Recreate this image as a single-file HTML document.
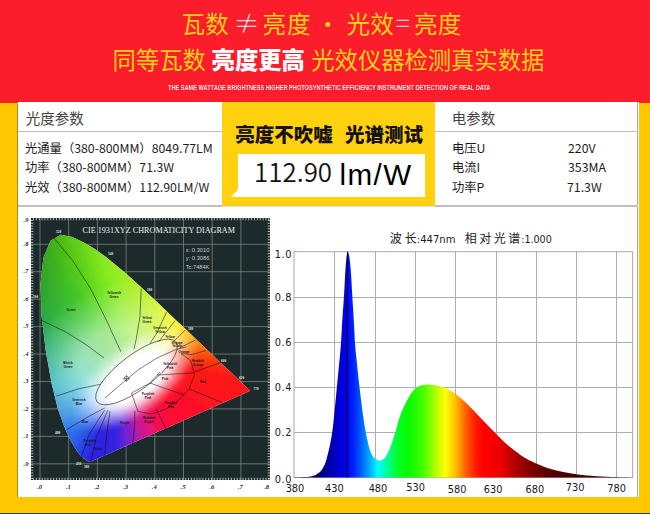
<!DOCTYPE html><html lang="zh"><head><meta charset="utf-8"><title>光谱测试</title><style>
html,body{margin:0;padding:0}
body{width:650px;height:514px;overflow:hidden;position:relative;background:#ffc700;font-family:"Liberation Sans","Noto Sans CJK SC",sans-serif}
.a{position:absolute;white-space:nowrap}
.cj{font-family:"Noto Sans CJK SC","Liberation Sans",sans-serif}
#hd{left:0;top:0;width:650px;height:102.6px;background:#fb1c2c}
#wh{left:18px;top:102px;width:620.9px;height:395px;background:#fff}
.t1{color:#ffd21a;font-size:23.5px;line-height:30px;font-weight:400}
.row{font-size:12.3px;line-height:16px;color:#1c1c1c}
.ttl{font-size:14.5px;line-height:20px;color:#444}
.ln{background:#c0c0c0;height:1.4px}
</style></head><body>
<div class="a" id="hd"></div>
<div class="a" id="wh"></div>
<div class="a" style="left:17px;top:102px;width:1px;height:395px;background:#a88c1c"></div>
<div class="a" style="left:637.1px;top:102px;width:1px;height:395px;background:#a4a8ba"></div>
<div class="a" style="left:0;top:513px;width:650px;height:1px;background:#27404a"></div>

<div class="a cj t1" style="left:181.5px;top:8px;letter-spacing:0.3px">瓦数</div>
<div class="a cj" id="ne" style="left:233.5px;top:6.5px;font-size:26px;line-height:30px;color:#ffdada;font-weight:300">≠</div>
<div class="a cj t1" style="left:262.5px;top:8px;letter-spacing:0.9px">亮度</div>
<div class="a cj t1" style="left:316px;top:8px">·</div>
<div class="a cj t1" style="left:346.5px;top:8px;letter-spacing:0.3px">光效</div>
<div class="a cj" id="eq" style="left:395.6px;top:6.5px;font-size:27px;line-height:30px;color:#ffc4c4;font-weight:300">=</div>
<div class="a cj t1" style="left:414px;top:8px;letter-spacing:0.3px">亮度</div>
<div class="a cj t1" style="left:112.6px;top:44.2px;font-size:23.3px">同等瓦数</div>
<div class="a cj t1" style="left:211.6px;top:44.2px;font-size:23.3px;color:#fff;font-weight:900">亮度更高</div>
<div class="a cj t1" style="left:311.3px;top:44.2px;font-size:23.3px">光效仪器检测真实数据</div>
<div class="a" id="en" style="left:168px;top:82.6px;font-size:7px;line-height:9px;font-weight:700;color:#ffe4e6;transform-origin:0 0;transform:scaleX(0.802)">THE SAME WATTAGE BRIGHTNESS HIGHER PHOTOSYNTHETIC EFFICIENCY INSTRUMENT DETECTION OF REAL DATA</div>

<div class="a cj ttl" style="left:25.8px;top:107.6px">光度参数</div>
<div class="a ln" style="left:18px;top:130.5px;width:204.5px"></div>
<div class="a cj row" style="left:25px;top:139.8px">光通量（380-800MM）8049.77LM</div>
<div class="a cj row" style="left:25px;top:158.7px">功率（380-800MM）71.3W</div>
<div class="a cj row" style="left:25px;top:178.6px">光效（380-800MM）112.90LM/W</div>
<div class="a ln" style="left:18px;top:205.4px;width:204px"></div><div class="a ln" style="left:434.5px;top:205.4px;width:203.5px"></div><div class="a" style="left:222px;top:205.6px;width:212.5px;height:1.2px;background:#dcdcee"></div>

<div class="a" style="left:222px;top:102px;width:212.5px;height:104px;background:#ffd10f"></div>
<div class="a cj" style="left:235.3px;top:120.3px;font-size:19.5px;line-height:28px;font-weight:900;color:#151008">亮度不吹嘘<span style="display:inline-block;width:12.3px"></span>光谱测试</div>
<div class="a" style="left:231px;top:154px;width:194px;height:43px;background:#fff;clip-path:polygon(7px 0,100% 0,100% 100%,0 100%,7px 35.5px)"></div>
<div class="a cj" id="num" style="left:254px;top:153.4px;font-size:25.8px;line-height:36px;color:#111;font-weight:350;letter-spacing:0.05px">112.90</div>
<div class="a" id="unit" style="left:339.4px;top:158px;font-size:29.6px;line-height:34px;color:#000;letter-spacing:1.5px">lm/W</div>

<div class="a cj ttl" style="left:451.8px;top:107.6px">电参数</div>
<div class="a ln" style="left:434.5px;top:130.5px;width:203px"></div>
<div class="a cj row" style="left:452px;top:139.8px">电压U</div><div class="a cj row" style="left:568px;top:139.8px">220V</div>
<div class="a cj row" style="left:452px;top:158.7px">电流I</div><div class="a cj row" style="left:568px;top:158.7px">353MA</div>
<div class="a cj row" style="left:452px;top:178.6px">功率P</div><div class="a cj row" style="left:567px;top:178.6px">71.3W</div>
<div style="position:absolute;left:31px;top:217.5px;width:239px;height:262px;background:#1d2a2b;overflow:hidden"><svg style="position:absolute;left:0;top:0" width="239" height="262" viewBox="31 217.5 239 262"><path d="M40.0 217.5V479.5M68.7 217.5V479.5M97.4 217.5V479.5M126.1 217.5V479.5M154.8 217.5V479.5M183.5 217.5V479.5M212.2 217.5V479.5M240.9 217.5V479.5M31.0 463.3H270.0M31.0 435.9H270.0M31.0 408.4H270.0M31.0 381.0H270.0M31.0 353.5H270.0M31.0 326.1H270.0M31.0 298.7H270.0M31.0 271.2H270.0M31.0 243.8H270.0" stroke="#849086" stroke-width="0.7" fill="none"/><path d="M33 218H270M33 479H270" stroke="#b4beb6" stroke-width="3.6" stroke-dasharray="1 1.87" fill="none"/><path d="M31.5 219.5V479.5M269.5 219.5V479.5" stroke="#b4beb6" stroke-width="3.6" stroke-dasharray="1 1.744" fill="none"/></svg><div style="position:absolute;left:0;top:0;width:239px;height:262px;clip-path:polygon(58.4px 244.7px,55.6px 243.1px,53.3px 241.2px,49.7px 238.0px,47.2px 235.2px,43.8px 230.2px,39.2px 222.3px,33.5px 209.7px,26.8px 191.0px,20.5px 165.2px,14.7px 132.9px,10.6px 98.4px,9.5px 66.4px,12.4px 40.2px,19.6px 23.3px,29.7px 17.3px,41.2px 19.4px,52.8px 25.0px,63.8px 31.6px,74.3px 39.1px,84.7px 47.4px,95.0px 56.1px,105.2px 65.3px,115.5px 74.7px,125.7px 84.3px,135.9px 93.9px,145.8px 103.4px,155.5px 112.6px,164.8px 121.4px,173.5px 129.7px,181.4px 137.3px,188.3px 143.9px,199.5px 154.5px,206.9px 161.5px,214.8px 169.0px,219.3px 173.3px);background:#fff"><svg style="position:absolute;left:0;top:0" width="239" height="262" viewBox="0 0 239 262"><defs><filter id="hb" x="-5%" y="-5%" width="110%" height="110%"><feGaussianBlur stdDeviation="2"/></filter></defs><g filter="url(#hb)"><path fill="#3186ea" d="M68.5 182.4L67.4 183.4L63.9 186.2L56.3 192.2L44.2 201.7L19.1 221.1L-20.0 251.3L-98.5 312.0L-112.1 292.5L-28.1 239.7L13.8 213.5L40.9 196.9L54.1 189.0L62.7 184.3L66.8 182.4L68.6 182.3"/><path fill="#348ee9" d="M68.5 182.4L67.0 182.7L63.0 184.8L54.6 189.9L41.6 198.1L15.1 215.5L-26.2 242.7L-108.8 297.6L-121.0 277.2L-33.4 230.5L10.4 207.5L38.8 193.1L52.8 186.4L62.0 182.7L66.7 181.5L68.9 182.1"/><path fill="#3697e9" d="M68.8 182.2L66.7 181.9L62.2 183.3L53.2 187.3L39.5 194.4L11.5 209.6L-31.7 233.7L-118.1 282.6L-128.8 261.3L-38.0 221.0L7.4 201.2L37.0 189.1L51.7 183.7L61.6 181.0L66.7 180.5L69.4 181.7"/><path fill="#38a0e8" d="M69.2 181.9L66.7 180.9L61.7 181.6L52.1 184.7L37.6 190.5L8.4 203.4L-36.5 224.3L-126.3 266.9L-135.5 244.9L-42.0 211.1L5.0 194.7L35.6 184.9L50.9 180.8L61.3 179.1L66.9 179.4L70.0 181.2"/><path fill="#37a6e3" d="M69.8 181.4L66.8 179.8L61.4 179.8L51.2 181.8L36.0 186.4L5.8 197.0L-40.7 214.5L-133.3 250.6L-141.0 228.1L-45.2 201.0L3.0 188.1L34.5 180.6L50.4 177.8L61.3 177.1L67.3 178.1L70.8 180.6"/><path fill="#36adde" d="M70.5 180.8L67.1 178.6L61.3 177.8L50.6 178.8L34.8 182.1L3.6 190.4L-44.1 204.5L-139.2 233.9L-145.2 210.9L-47.6 190.6L1.5 181.2L33.8 176.2L50.1 174.7L61.5 175.0L67.8 176.7L71.8 179.9"/><path fill="#36b3da" d="M71.5 180.1L67.6 177.2L61.4 175.8L50.2 175.8L34.0 177.7L2.0 183.6L-46.9 194.2L-143.9 216.8L-148.3 193.4L-49.3 180.1L0.5 174.2L33.4 171.6L50.1 171.5L61.9 172.8L68.6 175.3L73.0 179.0"/><path fill="#35bad5" d="M72.6 179.3L68.3 175.8L61.7 173.6L50.1 172.6L33.5 173.2L0.8 176.7L-48.8 183.7L-147.4 199.4L-150.1 175.7L-50.3 169.4L0.1 167.2L33.4 167.0L50.4 168.2L62.5 170.6L69.5 173.7L74.3 178.0"/><path fill="#34c0d0" d="M73.9 178.3L69.2 174.2L62.3 171.4L50.3 169.3L33.3 168.6L0.2 169.6L-50.1 173.1L-149.6 181.8L-150.7 157.9L-50.5 158.7L0.1 160.0L33.7 162.3L51.0 164.8L63.3 168.2L70.7 172.0L75.8 176.9"/><path fill="#33c1c3" d="M75.3 177.3L70.3 172.6L63.0 169.0L50.7 165.9L33.5 163.9L0.0 162.5L-50.5 162.4L-150.6 164.0L-150.0 140.1L-50.0 147.9L0.7 152.9L34.3 157.6L51.8 161.4L64.3 165.8L71.9 170.2L77.4 175.7"/><path fill="#32c2b6" d="M76.8 176.1L71.5 170.8L64.0 166.6L51.5 162.5L34.1 159.2L0.4 155.3L-50.2 151.6L-150.4 146.2L-148.1 122.4L-48.6 137.2L1.8 145.7L35.3 152.8L52.8 157.9L65.6 163.3L73.4 168.4L79.2 174.3"/><path fill="#32c2a9" d="M78.5 174.8L72.9 169.0L65.1 164.2L52.5 159.1L35.0 154.4L1.3 148.2L-49.2 140.9L-148.9 128.5L-145.0 104.8L-46.6 126.6L3.3 138.6L36.7 148.1L54.2 154.4L67.0 160.8L75.0 166.5L81.0 172.9"/><path fill="#31c39c" d="M80.4 173.4L74.4 167.1L66.5 161.7L53.7 155.6L36.2 149.7L2.7 141.0L-47.4 130.2L-146.2 110.8L-140.6 87.5L-43.8 116.0L5.4 131.6L38.4 143.4L55.8 151.0L68.6 158.2L76.7 164.5L83.0 171.4"/><path fill="#30c48f" d="M82.3 171.9L76.1 165.2L68.0 159.1L55.2 152.2L37.8 145.0L4.6 134.0L-44.8 119.6L-142.2 93.4L-135.0 70.5L-40.3 105.7L8.0 124.7L40.4 138.7L57.6 147.5L70.4 155.7L78.6 162.5L85.2 169.8"/><path fill="#32c581" d="M84.4 170.4L78.0 163.2L69.8 156.5L56.9 148.7L39.7 140.3L7.0 127.0L-41.5 109.3L-137.1 76.3L-128.3 53.9L-36.0 95.6L11.0 117.9L42.7 134.2L59.6 144.1L72.4 153.1L80.6 160.4L87.4 168.2"/><path fill="#34c672" d="M86.6 168.7L79.9 161.1L71.7 154.0L58.9 145.3L41.9 135.7L9.9 120.2L-37.6 99.1L-130.7 59.5L-120.4 37.8L-31.1 85.9L14.5 111.3L45.4 129.7L61.9 140.7L74.5 150.5L82.8 158.4L89.7 166.4"/><path fill="#36c764" d="M88.9 167.0L82.0 159.1L73.7 151.4L61.1 141.9L44.4 131.2L13.3 113.5L-32.9 89.2L-123.3 43.3L-111.4 22.3L-25.5 76.4L18.5 104.9L48.3 125.3L64.4 137.4L76.8 148.0L85.0 156.2L92.0 164.6"/><path fill="#39c856" d="M91.2 165.3L84.3 157.0L76.0 148.8L63.5 138.5L47.3 126.8L17.1 107.1L-27.5 79.6L-114.7 27.5L-101.4 7.4L-19.3 67.3L22.8 98.7L51.5 121.1L67.1 134.2L79.2 145.4L87.4 154.1L94.5 162.8"/><path fill="#3cca4c" d="M93.6 163.4L86.6 154.9L78.3 146.3L66.1 135.3L50.4 122.6L21.3 100.8L-21.5 70.4L-105.0 12.4L-90.4 -6.8L-12.4 58.7L27.6 92.9L55.0 117.1L70.0 131.1L81.7 143.0L89.8 152.0L97.0 160.9"/><path fill="#3ecb41" d="M96.1 161.6L89.0 152.7L80.8 143.8L69.0 132.1L53.8 118.5L25.9 94.9L-14.8 61.6L-94.3 -2.0L-78.4 -20.2L-5.0 50.5L32.8 87.3L58.7 113.2L73.0 128.1L84.4 140.5L92.4 149.9L99.5 159.0"/><path fill="#42cd38" d="M98.6 159.7L91.5 150.6L83.5 141.4L72.0 129.1L57.4 114.5L30.9 89.2L-7.6 53.2L-82.6 -15.7L-65.5 -32.7L3.0 42.8L38.3 82.1L62.7 109.6L76.2 125.2L87.2 138.2L94.9 147.8L102.1 157.1"/><path fill="#46cf30" d="M101.2 157.8L94.0 148.6L86.2 139.0L75.1 126.2L61.3 110.8L36.3 83.8L0.2 45.4L-70.0 -28.5L-51.7 -44.4L11.4 35.7L44.1 77.2L66.8 106.1L79.6 122.5L90.0 135.9L97.6 145.8L104.7 155.1"/><path fill="#4cd228" d="M103.8 155.8L96.7 146.5L89.0 136.7L78.4 123.4L65.4 107.3L42.0 78.8L8.4 38.1L-56.6 -40.5L-37.3 -55.0L20.3 29.1L50.2 72.6L71.2 102.9L83.1 119.9L92.9 133.7L100.2 143.8L107.2 153.2"/><path fill="#55d722" d="M106.3 153.9L99.3 144.5L91.9 134.5L81.9 120.8L69.6 104.0L48.1 74.1L17.2 31.3L-42.3 -51.5L-22.1 -64.7L29.6 23.2L56.6 68.5L75.7 99.9L86.6 117.5L95.9 131.7L102.9 141.9L109.8 151.2"/><path fill="#61dc1e" d="M108.9 151.9L102.0 142.5L94.9 132.4L85.4 118.3L74.1 100.9L54.4 69.9L26.4 25.1L-27.4 -61.5L-6.3 -73.2L39.3 17.9L63.3 64.8L80.3 97.2L90.3 115.3L99.0 129.7L105.7 140.0L112.4 149.3"/><path fill="#6de11c" d="M111.5 150.0L104.7 140.6L97.9 130.4L89.1 116.0L78.7 98.1L61.0 66.0L36.0 19.6L-11.8 -70.4L10.1 -80.7L49.4 13.2L70.1 61.6L85.1 94.8L94.1 113.2L102.0 127.8L108.4 138.1L114.9 147.4"/><path fill="#7be61d" d="M114.0 148.1L107.4 138.8L101.0 128.5L92.8 113.9L83.5 95.6L67.7 62.6L45.9 14.7L4.4 -78.2L26.9 -87.0L59.7 9.3L77.1 58.8L90.0 92.7L97.9 111.4L105.1 126.1L111.1 136.4L117.4 145.6"/><path fill="#8aea20" d="M116.5 146.2L110.1 137.0L104.0 126.7L96.6 112.0L88.3 93.4L74.7 59.7L56.1 10.5L21.1 -84.9L44.1 -92.1L70.2 6.0L84.3 56.4L94.9 90.9L101.7 109.8L108.2 124.6L113.7 134.8L119.8 143.7"/><path fill="#96ec22" d="M119.0 144.4L112.8 135.3L107.1 125.1L100.4 110.3L93.2 91.5L81.8 57.2L66.5 7.1L38.2 -90.5L61.6 -96.1L80.9 3.5L91.5 54.5L99.9 89.4L105.6 108.3L111.3 123.1L116.4 133.2L122.1 142.0"/><path fill="#9fee24" d="M121.3 142.6L115.5 133.7L110.2 123.6L104.3 108.8L98.2 89.9L89.0 55.1L77.2 4.3L55.6 -94.8L79.3 -98.8L91.7 1.7L98.9 53.2L105.0 88.2L109.5 107.2L114.3 121.8L118.9 131.8L124.4 140.3"/><path fill="#a9ef23" d="M123.6 140.8L118.1 132.2L113.3 122.3L108.1 107.5L103.2 88.6L96.3 53.6L87.9 2.2L73.2 -98.0L97.2 -100.2L102.5 0.7L106.2 52.3L110.0 87.3L113.3 106.2L117.3 120.7L121.4 130.4L126.6 138.6"/><path fill="#b1f021" d="M125.8 139.2L120.6 130.9L116.3 121.1L112.0 106.5L108.3 87.6L103.7 52.5L98.8 0.9L91.0 -99.9L115.1 -100.5L113.4 0.4L113.6 51.9L115.0 86.8L117.1 105.5L120.3 119.8L123.9 129.2L128.7 137.1"/><path fill="#b9f020" d="M128.0 137.6L123.0 129.6L119.2 120.1L115.8 105.7L113.3 86.9L111.0 52.0L109.7 0.4L108.9 -100.5L132.9 -99.5L124.3 0.8L120.9 52.0L120.0 86.6L120.9 105.0L123.1 119.0L126.2 128.1L130.6 135.6"/><path fill="#c4f220" d="M130.0 136.1L125.4 128.5L122.1 119.2L119.6 105.1L118.3 86.6L118.4 51.9L120.6 0.6L126.8 -100.0L150.6 -97.2L135.0 2.1L128.1 52.6L124.9 86.7L124.5 104.8L125.9 118.4L128.5 127.1L132.5 134.2"/><path fill="#cef420" d="M131.8 134.7L127.7 127.5L125.0 118.6L123.3 104.8L123.2 86.6L125.7 52.4L131.4 1.6L144.5 -98.2L168.1 -93.8L145.7 4.0L135.3 53.7L129.7 87.1L128.1 104.8L128.6 117.9L130.6 126.3L134.2 132.9"/><path fill="#d8f420" d="M133.6 133.3L129.9 126.6L127.7 118.1L126.9 104.7L128.1 86.9L132.8 53.3L142.0 3.2L162.1 -95.1L185.3 -89.1L156.1 6.7L142.2 55.3L134.4 87.9L131.6 105.0L131.2 117.7L132.6 125.6L135.7 131.7"/><path fill="#e1f420" d="M135.2 132.1L131.9 125.8L130.3 117.7L130.4 104.9L132.8 87.6L139.9 54.7L152.5 5.7L179.4 -90.8L202.1 -83.2L166.2 10.1L149.1 57.4L138.9 89.0L134.9 105.5L133.6 117.6L134.5 125.0L137.1 130.7"/><path fill="#e9f320" d="M136.7 131.0L133.8 125.2L132.8 117.6L133.8 105.3L137.4 88.6L146.7 56.6L162.8 8.8L196.3 -85.4L218.4 -76.2L176.1 14.2L155.6 60.0L143.3 90.4L138.1 106.2L135.9 117.7L136.2 124.6L138.4 129.7"/><path fill="#eff220" d="M138.0 130.0L135.6 124.8L135.2 117.6L137.1 106.0L141.8 89.9L153.4 59.0L172.8 12.7L212.8 -78.8L234.1 -68.1L185.7 19.0L162.0 63.0L147.5 92.2L141.2 107.2L138.1 118.0L137.8 124.4L139.5 128.9"/><path fill="#f5f120" d="M139.2 129.1L137.3 124.4L137.4 117.8L140.2 106.8L146.1 91.5L159.8 61.9L182.4 17.3L228.8 -71.0L249.3 -58.8L194.8 24.4L168.1 66.5L151.5 94.2L144.1 108.4L140.1 118.4L139.2 124.2L140.5 128.2"/><path fill="#f9ec1e" d="M140.2 128.4L138.7 124.3L139.4 118.2L143.1 108.0L150.1 93.5L166.0 65.2L191.7 22.5L244.2 -62.1L263.7 -48.6L203.5 30.5L173.8 70.3L155.3 96.5L146.7 109.8L141.9 119.0L140.5 124.3L141.2 127.6"/><path fill="#fbe41a" d="M141.0 127.8L140.1 124.2L141.3 118.8L145.8 109.3L154.0 95.7L171.9 69.0L200.6 28.4L258.8 -52.2L277.4 -37.3L211.7 37.2L179.3 74.6L158.8 99.1L149.2 111.4L143.6 119.9L141.6 124.4L141.8 127.1"/><path fill="#fcdc16" d="M141.6 127.3L141.2 124.4L143.1 119.6L148.4 110.9L157.6 98.2L177.5 73.1L209.0 34.8L272.8 -41.3L290.2 -25.1L219.5 44.5L184.4 79.3L162.1 102.0L151.5 113.3L145.1 120.8L142.5 124.8L142.2 126.8"/><path fill="#fed412" d="M142.1 126.9L142.2 124.6L144.6 120.5L150.7 112.6L161.0 101.0L182.7 77.7L216.9 41.9L285.9 -29.4L302.2 -12.0L226.6 52.3L189.1 84.4L165.0 105.1L153.5 115.3L146.4 122.0L143.2 125.2L142.5 126.6"/><path fill="#ffc910" d="M142.4 126.7L143.0 125.0L145.9 121.6L152.8 114.6L164.0 104.0L187.5 82.6L224.2 49.5L298.2 -16.6L313.1 1.8L233.2 60.6L193.3 89.8L167.7 108.5L155.3 117.6L147.4 123.3L143.8 125.8L142.5 126.6"/><path fill="#ffbc10" d="M142.5 126.6L143.6 125.6L147.1 122.8L154.7 116.8L166.8 107.3L191.9 87.9L231.0 57.7L309.5 -3.0L323.1 16.5L239.1 69.3L197.2 95.5L170.1 112.1L156.9 120.0L148.3 124.7L144.2 126.6L142.4 126.7"/><path fill="#ffaf10" d="M142.5 126.6L144.0 126.3L148.0 124.2L156.4 119.1L169.4 110.9L195.9 93.5L237.2 66.3L319.8 11.4L332.0 31.8L244.4 78.5L200.6 101.5L172.2 115.9L158.2 122.6L149.0 126.3L144.3 127.5L142.1 126.9"/><path fill="#ffa210" d="M142.2 126.8L144.3 127.1L148.8 125.7L157.8 121.7L171.5 114.6L199.5 99.4L242.7 75.3L329.1 26.4L339.8 47.7L249.0 88.0L203.6 107.8L174.0 119.9L159.3 125.3L149.4 128.0L144.3 128.5L141.6 127.3"/><path fill="#ff9110" d="M141.8 127.1L144.3 128.1L149.3 127.4L158.9 124.3L173.4 118.5L202.6 105.6L247.5 84.7L337.3 42.1L346.5 64.1L253.0 97.9L206.0 114.3L175.4 124.1L160.1 128.2L149.7 129.9L144.1 129.6L141.0 127.8"/><path fill="#ff7f10" d="M141.2 127.6L144.2 129.2L149.6 129.2L159.8 127.2L175.0 122.6L205.2 112.0L251.7 94.5L344.3 58.4L352.0 80.9L256.2 108.0L208.0 120.9L176.5 128.4L160.6 131.2L149.7 131.9L143.7 130.9L140.2 128.4"/><path fill="#ff6d10" d="M140.5 128.2L143.9 130.4L149.7 131.2L160.4 130.2L176.2 126.9L207.4 118.6L255.1 104.5L350.2 75.1L356.2 98.1L258.6 118.4L209.5 127.8L177.2 132.8L160.9 134.3L149.5 134.0L143.2 132.3L139.2 129.1"/><path fill="#ff5c10" d="M139.5 128.9L143.4 131.8L149.6 133.2L160.8 133.2L177.0 131.3L209.0 125.4L257.9 114.8L354.9 92.2L359.3 115.6L260.3 128.9L210.5 134.8L177.6 137.4L160.9 137.5L149.1 136.2L142.4 133.7L138.0 130.0"/><path fill="#ff4b10" d="M138.4 129.7L142.7 133.2L149.3 135.4L160.9 136.4L177.5 135.8L210.2 132.3L259.8 125.3L358.4 109.6L361.1 133.3L261.3 139.6L210.9 141.8L177.6 142.0L160.6 140.8L148.5 138.4L141.5 135.3L136.7 131.0"/><path fill="#ff3a10" d="M137.1 130.7L141.8 134.8L148.7 137.6L160.7 139.7L177.7 140.4L210.8 139.4L261.1 135.9L360.6 127.2L361.7 151.1L261.5 150.3L210.9 149.0L177.3 146.7L160.0 144.2L147.7 140.8L140.3 137.0L135.2 132.1"/><path fill="#ff2f12" d="M135.7 131.7L140.7 136.4L148.0 140.0L160.3 143.1L177.5 145.1L211.0 146.5L261.5 146.6L361.6 145.0L361.0 168.9L261.0 161.1L210.3 156.1L176.7 151.4L159.2 147.6L146.7 143.2L139.1 138.8L133.6 133.3"/><path fill="#ff1f16" d="M134.2 132.9L139.5 138.2L147.0 142.4L159.5 146.5L176.9 149.8L210.6 153.7L261.2 157.4L361.4 162.8L359.1 186.6L259.6 171.8L209.2 163.3L175.7 156.2L158.2 151.1L145.4 145.7L137.6 140.6L131.8 134.7"/><path fill="#ff1418" d="M132.5 134.2L138.1 140.0L145.9 144.8L158.5 149.9L176.0 154.6L209.7 160.8L260.2 168.1L359.9 180.5L356.0 204.2L257.6 182.4L207.7 170.4L174.3 160.9L156.8 154.6L144.0 148.2L136.0 142.5L130.0 136.1"/><path fill="#ff1419" d="M130.6 135.6L136.6 141.9L144.5 147.3L157.3 153.4L174.8 159.3L208.3 168.0L258.4 178.8L357.2 198.2L351.6 221.5L254.8 193.0L205.6 177.4L172.6 165.6L155.2 158.0L142.4 150.8L134.3 144.5L128.0 137.6"/><path fill="#ff141c" d="M128.7 137.1L134.9 143.8L143.0 149.9L155.8 156.8L173.2 164.0L206.4 175.0L255.8 189.4L353.2 215.6L346.0 238.5L251.3 203.3L203.0 184.3L170.6 170.3L153.4 161.5L140.6 153.3L132.4 146.5L125.8 139.2"/><path fill="#ff141f" d="M126.6 138.6L133.0 145.8L141.2 152.5L154.1 160.3L171.3 168.7L204.0 182.0L252.5 199.7L348.1 232.7L339.3 255.1L247.0 213.4L200.0 191.1L168.3 174.8L151.4 164.9L138.6 155.9L130.4 148.6L123.6 140.8"/><path fill="#ff1322" d="M124.4 140.3L131.1 147.9L139.3 155.0L152.1 163.7L169.1 173.3L201.1 188.8L248.6 209.9L341.7 249.5L331.4 271.2L242.1 223.1L196.5 197.7L165.6 179.3L149.1 168.3L136.5 158.5L128.2 150.6L121.3 142.6"/><path fill="#ff1224" d="M122.1 142.0L129.0 149.9L137.3 157.6L149.9 167.1L166.6 177.8L197.7 195.5L243.9 219.8L334.3 265.7L322.4 286.7L236.5 232.6L192.5 204.1L162.7 183.7L146.6 171.6L134.2 161.0L126.0 152.8L119.0 144.4"/><path fill="#ff1126" d="M119.8 143.7L126.7 152.0L135.0 160.2L147.5 170.5L163.7 182.2L193.9 201.9L238.5 229.4L325.7 281.5L312.4 301.6L230.3 241.7L188.2 210.3L159.5 187.9L143.9 174.8L131.8 163.6L123.6 154.9L116.5 146.2"/><path fill="#ff1029" d="M117.4 145.6L124.4 154.1L132.7 162.7L144.9 173.7L160.6 186.4L189.7 208.2L232.5 238.6L316.0 296.6L301.4 315.8L223.4 250.3L183.4 216.1L156.0 191.9L141.0 177.9L129.3 166.0L121.2 157.0L114.0 148.1"/><path fill="#ff102b" d="M114.9 147.4L122.0 156.3L130.2 165.2L142.0 176.9L157.2 190.5L185.1 214.1L225.8 247.4L305.3 311.0L289.4 329.2L216.0 258.5L178.2 221.7L152.3 195.8L138.0 180.9L126.6 168.5L118.6 159.1L111.5 150.0"/><path fill="#ff102d" d="M112.4 149.3L119.5 158.4L127.5 167.6L139.0 179.9L153.6 194.5L180.1 219.8L218.6 255.8L293.6 324.7L276.5 341.7L208.0 266.2L172.7 226.9L148.3 199.4L134.8 183.8L123.8 170.8L116.1 161.2L108.9 151.9"/><path fill="#ff102f" d="M109.8 151.2L117.0 160.4L124.8 170.0L135.9 182.8L149.7 198.2L174.7 225.2L210.8 263.6L281.0 337.5L262.7 353.4L199.6 273.3L166.9 231.8L144.2 202.9L131.4 186.5L121.0 173.1L113.4 163.2L106.3 153.9"/><path fill="#fd1035" d="M107.2 153.2L114.3 162.5L122.0 172.3L132.6 185.6L145.6 201.7L169.0 230.2L202.6 270.9L267.6 349.5L248.3 364.0L190.7 279.9L160.8 236.4L139.8 206.1L127.9 189.1L118.1 175.3L110.8 165.2L103.8 155.8"/><path fill="#fa103e" d="M104.7 155.1L111.7 164.5L119.1 174.5L129.1 188.2L141.4 205.0L162.9 234.9L193.8 277.7L253.3 360.5L233.1 373.7L181.4 285.8L154.4 240.5L135.3 209.1L124.4 191.5L115.1 177.3L108.1 167.1L101.2 157.8"/><path fill="#f71047" d="M102.1 157.1L109.0 166.5L116.1 176.6L125.6 190.7L136.9 208.1L156.6 239.1L184.6 283.9L238.4 370.5L217.3 382.2L171.7 291.1L147.7 244.2L130.7 211.8L120.7 193.7L112.0 179.3L105.3 169.0L98.6 159.7"/><path fill="#f4104f" d="M99.5 159.0L106.3 168.4L113.1 178.6L121.9 193.0L132.3 210.9L150.0 243.0L175.0 289.4L222.8 379.4L200.9 389.7L161.6 295.8L140.9 247.4L125.9 214.2L116.9 195.8L109.0 181.2L102.6 170.9L96.1 161.6"/><path fill="#eb1264" d="M97.0 160.9L103.6 170.2L110.0 180.5L118.2 195.1L127.5 213.4L143.3 246.4L165.1 294.3L206.6 387.2L184.1 396.0L151.3 299.7L133.9 250.2L121.0 216.3L113.1 197.6L105.9 182.9L99.9 172.6L93.6 163.4"/><path fill="#e11579" d="M94.5 162.8L100.9 172.0L107.0 182.3L114.4 197.0L122.7 215.6L136.3 249.3L154.9 298.5L189.9 393.9L166.9 401.1L140.8 303.0L126.7 252.6L116.1 218.1L109.3 199.2L102.8 184.4L97.3 174.2L91.2 165.3"/><path fill="#d4178a" d="M92.0 164.6L98.2 173.7L103.9 183.9L110.6 198.7L117.8 217.5L129.2 251.8L144.5 301.9L172.8 399.5L149.4 405.1L130.1 305.5L119.5 254.5L111.1 219.6L105.4 200.7L99.7 185.9L94.6 175.8L88.9 167.0"/><path fill="#c01a9e" d="M89.7 166.4L95.5 175.3L100.8 185.4L106.7 200.2L112.8 219.1L122.0 253.9L133.8 304.7L155.4 403.8L131.7 407.8L119.3 307.3L112.1 255.8L106.0 220.8L101.5 201.8L96.7 187.2L92.1 177.2L86.6 168.7"/><path fill="#a71cb4" d="M87.4 168.2L92.9 176.8L97.7 186.7L102.9 201.5L107.8 220.4L114.7 255.4L123.1 306.8L137.8 407.0L113.8 409.2L108.5 308.3L104.8 256.7L101.0 221.7L97.7 202.8L93.7 188.3L89.6 178.6L84.4 170.4"/><path fill="#8a1fc9" d="M85.2 169.8L90.4 178.1L94.7 187.9L99.0 202.5L102.7 221.4L107.3 256.5L112.2 308.1L120.0 408.9L95.9 409.5L97.6 308.6L97.4 257.1L96.0 222.2L93.9 203.5L90.7 189.2L87.1 179.8L82.3 171.9"/><path fill="#6d21d5" d="M83.0 171.4L88.0 179.4L91.8 188.9L95.2 203.3L97.7 222.1L100.0 257.0L101.3 308.6L102.1 409.5L78.1 408.5L86.7 308.2L90.1 257.0L91.0 222.4L90.1 204.0L87.9 190.0L84.8 180.9L80.4 173.4"/><path fill="#5122dd" d="M81.0 172.9L85.6 180.5L88.9 189.8L91.4 203.9L92.7 222.4L92.6 257.1L90.4 308.4L84.2 409.0L60.4 406.2L76.0 306.9L82.9 256.4L86.1 222.3L86.5 204.2L85.1 190.6L82.5 181.9L78.5 174.8"/><path fill="#3922e1" d="M79.2 174.3L83.3 181.5L86.0 190.4L87.7 204.2L87.8 222.4L85.3 256.6L79.6 307.4L66.5 407.2L42.9 402.8L65.3 305.0L75.7 255.3L81.3 221.9L82.9 204.2L82.4 191.1L80.4 182.7L76.8 176.1"/><path fill="#3123e1" d="M77.4 175.7L81.1 182.4L83.3 190.9L84.1 204.3L82.9 222.1L78.2 255.7L69.0 305.8L48.9 404.1L25.7 398.1L54.9 302.3L68.8 253.7L76.6 221.1L79.4 204.0L79.8 191.3L78.4 183.4L75.3 177.3"/><path fill="#2d24e0" d="M75.8 176.9L79.1 183.2L80.7 191.3L80.6 204.1L78.2 221.4L71.1 254.3L58.5 303.3L31.6 399.8L8.9 392.2L44.8 298.9L61.9 251.6L72.1 220.0L76.1 203.5L77.4 191.4L76.5 184.0L73.9 178.3"/><path fill="#2e22e0" d="M74.3 178.0L77.2 183.8L78.2 191.4L77.2 203.7L73.6 220.4L64.3 252.4L48.2 300.2L14.7 394.4L-7.4 385.2L34.9 294.8L55.4 249.0L67.7 218.6L72.9 202.8L75.1 191.3L74.8 184.4L72.6 179.3"/><path fill="#3022e0" d="M73.0 179.0L75.4 184.2L75.8 191.4L73.9 203.0L69.2 219.1L57.6 250.0L38.2 296.3L-1.8 387.8L-23.1 377.1L25.3 290.0L49.0 246.0L63.5 216.8L69.8 201.8L72.9 191.0L73.2 184.6L71.5 180.1"/><path fill="#2935e7" d="M71.8 179.9L73.7 184.6L73.6 191.2L70.8 202.2L64.9 217.5L51.2 247.1L28.6 291.7L-17.8 380.0L-38.3 367.8L16.2 284.6L42.9 242.5L59.5 214.8L66.9 200.6L70.9 190.6L71.8 184.8L70.5 180.8"/><path fill="#2848ea" d="M70.8 180.6L72.3 184.7L71.6 190.8L67.9 201.0L60.9 215.5L45.0 243.8L19.3 286.5L-33.2 371.1L-52.7 357.6L7.5 278.5L37.2 238.7L55.7 212.5L64.3 199.2L69.1 190.0L70.5 184.7L69.8 181.4"/><path fill="#2957ea" d="M70.0 181.2L70.9 184.8L69.7 190.2L65.2 199.7L57.0 213.3L39.1 240.0L10.4 280.6L-47.8 361.2L-66.4 346.3L-0.7 271.8L31.7 234.4L52.2 209.9L61.8 197.6L67.4 189.1L69.4 184.6L69.2 181.9"/><path fill="#2c67ea" d="M69.4 181.7L69.8 184.6L67.9 189.4L62.6 198.1L53.4 210.8L33.5 235.9L2.0 274.2L-61.8 350.3L-79.2 334.1L-8.5 264.5L26.6 229.7L48.9 207.0L59.5 195.7L65.9 188.2L68.5 184.2L68.8 182.2"/><path fill="#2e72ea" d="M68.9 182.1L68.8 184.4L66.4 188.5L60.3 196.4L50.0 208.0L28.3 231.3L-5.9 267.1L-74.9 338.4L-91.2 321.0L-15.6 256.7L21.9 224.6L46.0 203.9L57.5 193.7L64.6 187.0L67.8 183.8L68.5 182.4"/><path fill="#2f7cea" d="M68.6 182.3L68.0 184.0L65.1 187.4L58.2 194.4L47.0 205.0L23.5 226.4L-13.2 259.5L-87.2 325.6L-102.1 307.2L-22.2 248.4L17.7 219.2L43.3 200.5L55.7 191.4L63.6 185.7L67.2 183.2L68.5 182.4"/></g></svg><div style="position:absolute;left:0;top:0;width:239px;height:262px;background:linear-gradient(100deg,rgba(0,45,0,.36) 0,rgba(0,45,0,.30) 14px,rgba(0,45,0,.12) 45px,rgba(0,45,0,0) 80px)"></div><div style="position:absolute;left:80.0px;top:138.5px;width:190px;height:136px;margin:-68px 0 0 -95px;transform:rotate(-34deg);background:radial-gradient(closest-side,rgba(255,255,255,.55) 0,rgba(255,255,255,.5) 35%,rgba(255,255,255,.2) 70%,rgba(255,255,255,0) 100%)"></div><div style="position:absolute;left:104.0px;top:160.5px;width:150px;height:76px;margin:-38px 0 0 -75px;transform:rotate(-37deg);background:radial-gradient(closest-side,#fff 0,#fff 44%,rgba(255,255,255,.78) 58%,rgba(255,255,255,.36) 76%,rgba(255,255,255,.1) 90%,rgba(255,255,255,0) 100%)"></div></div></div><svg style="position:absolute;left:0;top:0" width="650" height="514" viewBox="0 0 650 514"><g fill="none" stroke="#111" stroke-width="0.55" stroke-linejoin="round"><path d="M54.0 238.1L72.9 260.9L90.6 288.7L105.8 319.0L121.0 351.9M141.2 288.7L140.0 316.5L136.2 339.3L134.0 349.0M41.3 320.3L65.3 331.7L85.6 344.3L104.0 358.0M166.6 312.0L157.2 332.3L150.2 343.2M175.1 320.6L161.1 338.5L158.5 342.0M185.3 329.9L172.0 343.2M195.4 340.0L179.8 347.8M206.0 350.5L192.0 354.5L181.0 353.5M181.0 353.5L191.0 361.0L194.5 375.0L189.0 389.0L180.0 399.0L166.0 409.0L152.0 414.0L138.0 411.5L131.5 393.0M194.5 372.0L222.0 362.0M189.0 389.0L222.0 402.5M157.0 375.0L193.0 373.0M150.0 383.0L184.0 395.0M131.5 393.0L150.0 383.0L160.0 372.0M156.3 409.0L164.9 426.3L166.5 431.0M134.8 411.2L134.8 423.0L132.6 444.5M56.2 396.2L78.0 389.0L100.3 384.3M66.9 429.5L86.0 418.0L104.6 408.0M79.8 460.8L89.5 433.8L104.6 410.2M90.6 462.9L96.0 438.2L107.8 410.2M104.6 456.3L106.8 433.8L110.0 411.2M105.0 398.0L120.0 385.0L138.0 370.0L157.0 358.0L176.0 349.5L186.0 347.0"/><ellipse cx="136.5" cy="372" rx="49.5" ry="17.3" transform="rotate(-37 136.5 372)"/><circle cx="126.5" cy="378.5" r="2.2" stroke-width="0.5"/><path d="M123 378.5h7M126.5 375v7" stroke-width="0.4"/></g><g fill="#eef2ee" font-family="'Liberation Serif','DejaVu Serif',serif"><text x="82.5" y="233.2" font-size="8.2" textLength="152.5" lengthAdjust="spacingAndGlyphs">CIE 1931XYZ CHROMATICITY DIAGRAM</text><g font-size="5.6" fill="#c6ccd6" font-family="'Liberation Sans',sans-serif"><text x="185.8" y="251.6" textLength="23.5">x: 0.3010</text><text x="185.8" y="260.1" textLength="23.5">y: 0.3086</text><text x="185.8" y="268.7" textLength="23.5">Tc:7484K</text></g><g font-size="3.4" font-weight="700"><text x="56.0" y="232.5">520</text><text x="108.0" y="255.0">540</text><text x="147.0" y="291.0">560</text><text x="188.0" y="330.0">580</text><text x="221.0" y="361.8">600</text><text x="239.0" y="379.3">620</text><text x="253.5" y="389.6">770</text><text x="33.0" y="298.0">500</text><text x="55.0" y="434.0">480</text><text x="76.0" y="465.0">450</text><text x="84.0" y="467.5">380</text></g></g><g fill="#141414" font-family="'Liberation Sans',sans-serif" font-size="3.1" font-weight="700" text-anchor="middle"><text x="71.0" y="311.0">Green</text><text x="114.0" y="294.0">Yellowish</text><text x="114.0" y="298.0">Green</text><text x="68.0" y="364.0">Bluish</text><text x="68.0" y="368.0">Green</text><text x="147.0" y="319.0">Yellow</text><text x="147.0" y="323.0">Green</text><text x="160.0" y="329.0">Greenish</text><text x="160.0" y="333.0">Yellow</text><text x="170.0" y="338.0">Yellow</text><text x="177.0" y="343.5">Orange</text><text x="177.0" y="347.0">Yellow</text><text x="184.0" y="352.5">Orange</text><text x="170.0" y="365.0">Yellowish</text><text x="170.0" y="369.0">Pink</text><text x="198.0" y="362.0">Reddish</text><text x="198.0" y="366.0">Orange</text><text x="165.0" y="380.0">Pink</text><text x="203.0" y="383.0">Red</text><text x="148.0" y="394.5">Purplish</text><text x="148.0" y="398.5">Pink</text><text x="171.0" y="404.0">Purplish</text><text x="171.0" y="408.0">Red</text><text x="149.0" y="419.0">Reddish</text><text x="149.0" y="423.0">Purple</text><text x="125.0" y="423.5">Purple</text><text x="79.0" y="401.0">Greenish</text><text x="79.0" y="405.0">Blue</text><text x="85.0" y="422.5">Blue</text><text x="90.0" y="442.0">Purplish</text><text x="88.0" y="446.0">Blue</text><text x="98.0" y="450.0">Violet</text></g><g fill="#20265a" font-family="'Liberation Serif',serif" font-size="6.5" font-style="italic" font-weight="700"><text x="23.6" y="465.5">.0</text><text x="23.6" y="438.1">.1</text><text x="23.6" y="410.6">.2</text><text x="23.6" y="383.2">.3</text><text x="23.6" y="355.7">.4</text><text x="23.6" y="328.3">.5</text><text x="23.6" y="300.9">.6</text><text x="23.6" y="273.4">.7</text><text x="23.6" y="246.0">.8</text><text x="23.6" y="221.8">.9</text><text x="39.5" y="488.9" text-anchor="middle">.0</text><text x="68.2" y="488.9" text-anchor="middle">.1</text><text x="96.9" y="488.9" text-anchor="middle">.2</text><text x="125.6" y="488.9" text-anchor="middle">.3</text><text x="154.3" y="488.9" text-anchor="middle">.4</text><text x="183.0" y="488.9" text-anchor="middle">.5</text><text x="211.7" y="488.9" text-anchor="middle">.6</text><text x="240.4" y="488.9" text-anchor="middle">.7</text><text x="266.6" y="488.9" text-anchor="middle">.8</text></g></svg><svg style="position:absolute;left:0;top:0" width="650" height="514" viewBox="0 0 650 514"><defs><linearGradient id="sg" gradientUnits="userSpaceOnUse" x1="294.0" y1="0" x2="632.6" y2="0"><stop offset="0.0000" stop-color="#000030"/><stop offset="0.0595" stop-color="#000060"/><stop offset="0.0833" stop-color="#000088"/><stop offset="0.1214" stop-color="#0000c4"/><stop offset="0.1571" stop-color="#0000f4"/><stop offset="0.1786" stop-color="#0028ff"/><stop offset="0.1929" stop-color="#0050ff"/><stop offset="0.2226" stop-color="#00a8ff"/><stop offset="0.2476" stop-color="#00ffff"/><stop offset="0.2810" stop-color="#00ff80"/><stop offset="0.3095" stop-color="#00ff20"/><stop offset="0.3381" stop-color="#08fa00"/><stop offset="0.3750" stop-color="#38ff00"/><stop offset="0.4071" stop-color="#90ff00"/><stop offset="0.4345" stop-color="#e0ff00"/><stop offset="0.4476" stop-color="#ffff00"/><stop offset="0.4762" stop-color="#ffc000"/><stop offset="0.5071" stop-color="#ff6000"/><stop offset="0.5333" stop-color="#ff2000"/><stop offset="0.5595" stop-color="#ff0000"/><stop offset="0.6119" stop-color="#ec0000"/><stop offset="0.6571" stop-color="#ac0000"/><stop offset="0.7048" stop-color="#7a0000"/><stop offset="0.7500" stop-color="#5a0000"/><stop offset="0.7952" stop-color="#4a0000"/><stop offset="0.9048" stop-color="#400000"/><stop offset="1.0000" stop-color="#380000"/></linearGradient></defs><rect x="294.0" y="251.7" width="338.6" height="225.9" fill="#fff" stroke="#a8a8a8" stroke-width="1"/><path d="M334.5 251.7V477.6M375.5 251.7V477.6M415.5 251.7V477.6M455.5 251.7V477.6M496.5 251.7V477.6M536.5 251.7V477.6M576.5 251.7V477.6M616.5 251.7V477.6M294.0 432.5H632.6M294.0 387.5H632.6M294.0 342.5H632.6M294.0 297.5H632.6" stroke="#adadad" stroke-width="1" fill="none"/><path d="M294.0 477.6L294.0 477.3L294.7 477.3L295.4 477.3L296.1 477.3L296.8 477.3L297.5 477.3L298.2 477.2L298.9 477.2L299.6 477.2L300.3 477.2L301.0 477.2L301.7 477.1L302.4 477.1L303.1 477.1L303.8 477.1L304.5 477.0L305.2 477.0L305.9 477.0L306.6 476.9L307.3 476.9L308.0 476.8L308.7 476.7L309.4 476.7L310.1 476.6L310.8 476.5L311.5 476.3L312.2 476.2L312.9 476.0L313.6 475.7L314.3 475.5L315.0 475.2L315.7 474.9L316.4 474.5L317.1 474.1L317.8 473.6L318.5 473.1L319.2 472.5L319.9 471.9L320.6 471.2L321.3 470.4L322.0 469.4L322.7 468.4L323.4 467.1L324.1 465.8L324.8 464.3L325.5 462.4L326.2 460.2L326.9 457.7L327.6 455.0L328.3 452.2L329.0 449.3L329.7 446.2L330.4 442.8L331.1 439.1L331.8 435.0L332.5 430.3L333.2 424.4L333.9 417.7L334.6 410.7L335.3 403.7L336.0 396.4L336.7 389.0L337.4 381.7L338.1 374.5L338.8 367.3L339.5 359.9L340.2 352.7L340.9 344.5L341.6 333.1L342.3 320.0L343.0 310.1L343.7 300.8L344.4 288.7L345.1 274.8L345.8 264.8L346.5 257.3L347.2 253.5L347.9 251.7L348.6 253.3L349.3 256.5L350.0 261.9L350.7 269.6L351.4 279.5L352.1 292.7L352.8 304.1L353.5 314.9L354.2 328.1L354.9 341.8L355.6 350.4L356.3 357.3L357.0 364.0L357.7 370.7L358.4 377.2L359.1 383.4L359.8 389.5L360.5 395.5L361.2 401.3L361.9 406.7L362.6 411.9L363.3 416.9L364.0 421.7L364.7 426.3L365.4 430.3L366.1 433.9L366.8 437.3L367.5 440.6L368.2 443.7L368.9 446.6L369.6 449.1L370.3 451.3L371.0 453.0L371.7 454.3L372.4 455.4L373.1 456.4L373.8 457.3L374.5 458.0L375.2 458.6L375.9 459.1L376.6 459.5L377.3 460.0L378.0 460.3L378.7 460.6L379.4 460.8L380.1 460.9L380.8 460.8L381.5 460.5L382.2 460.1L382.9 459.5L383.6 458.9L384.3 458.3L385.0 457.5L385.7 456.6L386.4 455.5L387.1 454.3L387.8 453.0L388.5 451.6L389.2 450.1L389.9 448.4L390.6 446.5L391.3 444.6L392.0 442.6L392.7 440.5L393.4 438.4L394.1 436.2L394.8 434.0L395.5 431.8L396.2 429.3L396.9 426.7L397.6 424.0L398.3 421.4L399.0 419.0L399.7 417.0L400.4 415.0L401.1 413.2L401.8 411.5L402.5 409.8L403.2 408.2L403.9 406.7L404.6 405.2L405.3 403.8L406.0 402.4L406.7 401.1L407.4 399.8L408.1 398.6L408.8 397.3L409.5 396.1L410.2 394.9L410.9 393.7L411.6 392.7L412.3 391.7L413.0 390.8L413.7 390.1L414.4 389.4L415.1 388.8L415.8 388.2L416.5 387.7L417.2 387.3L417.9 386.9L418.6 386.5L419.3 386.1L420.0 385.8L420.7 385.6L421.4 385.5L422.1 385.3L422.8 385.2L423.5 385.1L424.2 385.0L424.9 384.9L425.6 384.8L426.3 384.7L427.0 384.6L427.7 384.6L428.4 384.6L429.1 384.6L429.8 384.6L430.5 384.7L431.2 384.7L431.9 384.8L432.6 384.9L433.3 384.9L434.0 385.0L434.7 385.1L435.4 385.2L436.1 385.3L436.8 385.4L437.5 385.6L438.2 385.8L438.9 385.9L439.6 386.1L440.3 386.3L441.0 386.5L441.7 386.7L442.4 386.9L443.1 387.2L443.8 387.5L444.5 387.8L445.2 388.1L445.9 388.4L446.6 388.7L447.3 389.0L448.0 389.3L448.7 389.7L449.4 390.1L450.1 390.4L450.8 390.8L451.5 391.3L452.2 391.7L452.9 392.1L453.6 392.6L454.3 393.0L455.0 393.5L455.7 394.0L456.4 394.5L457.1 395.1L457.8 395.6L458.5 396.2L459.2 396.8L459.9 397.4L460.6 398.0L461.3 398.6L462.0 399.2L462.7 399.9L463.4 400.5L464.1 401.2L464.8 401.8L465.5 402.5L466.2 403.1L466.9 403.8L467.6 404.5L468.3 405.1L469.0 405.8L469.7 406.5L470.4 407.2L471.1 407.9L471.8 408.6L472.5 409.4L473.2 410.1L473.9 410.8L474.6 411.5L475.3 412.3L476.0 413.0L476.7 413.7L477.4 414.4L478.1 415.2L478.8 415.9L479.5 416.7L480.2 417.4L480.9 418.2L481.6 418.9L482.3 419.7L483.0 420.4L483.7 421.2L484.4 421.9L485.1 422.7L485.8 423.4L486.5 424.1L487.2 424.8L487.9 425.5L488.6 426.3L489.3 427.0L490.0 427.7L490.7 428.4L491.4 429.1L492.1 429.8L492.8 430.5L493.5 431.2L494.2 431.9L494.9 432.6L495.6 433.3L496.3 434.0L497.0 434.7L497.7 435.4L498.4 436.2L499.1 436.9L499.8 437.6L500.5 438.3L501.2 439.1L501.9 439.8L502.6 440.5L503.3 441.1L504.0 441.8L504.7 442.5L505.4 443.1L506.1 443.7L506.8 444.3L507.5 444.9L508.2 445.5L508.9 446.1L509.6 446.6L510.3 447.2L511.0 447.7L511.7 448.3L512.4 448.8L513.1 449.4L513.8 449.9L514.5 450.4L515.2 451.0L515.9 451.5L516.6 452.0L517.3 452.6L518.0 453.1L518.7 453.6L519.4 454.2L520.1 454.7L520.8 455.2L521.5 455.7L522.2 456.2L522.9 456.6L523.6 457.1L524.3 457.5L525.0 457.9L525.7 458.3L526.4 458.7L527.1 459.1L527.8 459.5L528.5 459.9L529.2 460.2L529.9 460.6L530.6 460.9L531.3 461.3L532.0 461.6L532.7 461.9L533.4 462.3L534.1 462.6L534.8 462.9L535.5 463.2L536.2 463.5L536.9 463.8L537.6 464.1L538.3 464.4L539.0 464.7L539.7 465.0L540.4 465.3L541.1 465.6L541.8 465.8L542.5 466.1L543.2 466.4L543.9 466.7L544.6 466.9L545.3 467.2L546.0 467.4L546.7 467.7L547.4 467.9L548.1 468.2L548.8 468.4L549.5 468.6L550.2 468.8L550.9 469.0L551.6 469.2L552.3 469.4L553.0 469.6L553.7 469.8L554.4 470.0L555.1 470.2L555.8 470.3L556.5 470.5L557.2 470.7L557.9 470.8L558.6 471.0L559.3 471.2L560.0 471.3L560.7 471.5L561.4 471.6L562.1 471.8L562.8 471.9L563.5 472.1L564.2 472.2L564.9 472.3L565.6 472.5L566.3 472.6L567.0 472.7L567.7 472.8L568.4 473.0L569.1 473.1L569.8 473.2L570.5 473.3L571.2 473.5L571.9 473.6L572.6 473.7L573.3 473.8L574.0 473.9L574.7 474.0L575.4 474.1L576.1 474.2L576.8 474.3L577.5 474.4L578.2 474.5L578.9 474.6L579.6 474.7L580.3 474.8L581.0 474.9L581.7 474.9L582.4 475.0L583.1 475.1L583.8 475.2L584.5 475.2L585.2 475.3L585.9 475.4L586.6 475.4L587.3 475.5L588.0 475.6L588.7 475.6L589.4 475.7L590.1 475.7L590.8 475.8L591.5 475.8L592.2 475.9L592.9 476.0L593.6 476.0L594.3 476.1L595.0 476.1L595.7 476.2L596.4 476.2L597.1 476.3L597.8 476.3L598.5 476.3L599.2 476.4L599.9 476.4L600.6 476.5L601.3 476.5L602.0 476.5L602.7 476.6L603.4 476.6L604.1 476.6L604.8 476.7L605.5 476.7L606.2 476.7L606.9 476.7L607.6 476.8L608.3 476.8L609.0 476.8L609.7 476.9L610.4 476.9L611.1 476.9L611.8 476.9L612.5 477.0L613.2 477.0L613.9 477.0L614.6 477.0L615.3 477.1L616.0 477.1L616.7 477.1L617.4 477.1L618.1 477.1L618.8 477.2L619.5 477.2L620.2 477.2L620.9 477.2L621.6 477.2L622.3 477.2L623.0 477.2L623.7 477.3L624.4 477.3L625.1 477.3L625.8 477.3L626.5 477.3L627.2 477.3L627.9 477.3L628.6 477.3L629.3 477.4L630.0 477.4L630.7 477.4L631.4 477.4L632.1 477.4L632.6 477.6Z" fill="url(#sg)"/><path d="M347.4 251.7V477.6" stroke="#000" stroke-width="1"/><g font-family="'DejaVu Sans','Liberation Sans',sans-serif" font-size="9.8" fill="#16161e"><text x="292" y="482.5" text-anchor="end" letter-spacing="0.55">0.0</text><text x="292" y="436.1" text-anchor="end" letter-spacing="0.55">0.2</text><text x="292" y="390.9" text-anchor="end" letter-spacing="0.55">0.4</text><text x="292" y="345.8" text-anchor="end" letter-spacing="0.55">0.6</text><text x="292" y="300.6" text-anchor="end" letter-spacing="0.55">0.8</text><text x="292" y="257.8" text-anchor="end" letter-spacing="0.55">1.0</text><text x="295.0" y="491.8" text-anchor="middle">380</text><text x="334.3" y="491.8" text-anchor="middle">430</text><text x="378.0" y="491.8" text-anchor="middle">480</text><text x="415.7" y="490.8" text-anchor="middle">530</text><text x="457.2" y="492.8" text-anchor="middle">580</text><text x="493.2" y="492.8" text-anchor="middle">630</text><text x="534.8" y="492.8" text-anchor="middle">680</text><text x="575.2" y="491.0" text-anchor="middle">730</text><text x="616.7" y="491.7" text-anchor="middle">780</text></g><g fill="#222" font-size="12" font-family="'Noto Sans CJK SC','Liberation Sans',sans-serif"><text x="389.7" y="242.6" textLength="27" lengthAdjust="spacing">波长</text><text x="464.8" y="242.6" textLength="55.5" lengthAdjust="spacing">相对光谱</text></g><g fill="#1c1c26" font-size="10.2" font-family="'DejaVu Sans Condensed','DejaVu Sans','Liberation Sans',sans-serif"><text x="416.8" y="242.8" textLength="38.6" lengthAdjust="spacingAndGlyphs">:447nm</text><text x="521.2" y="242.8" textLength="30.6" lengthAdjust="spacingAndGlyphs">:1.000</text></g></svg></body></html>
